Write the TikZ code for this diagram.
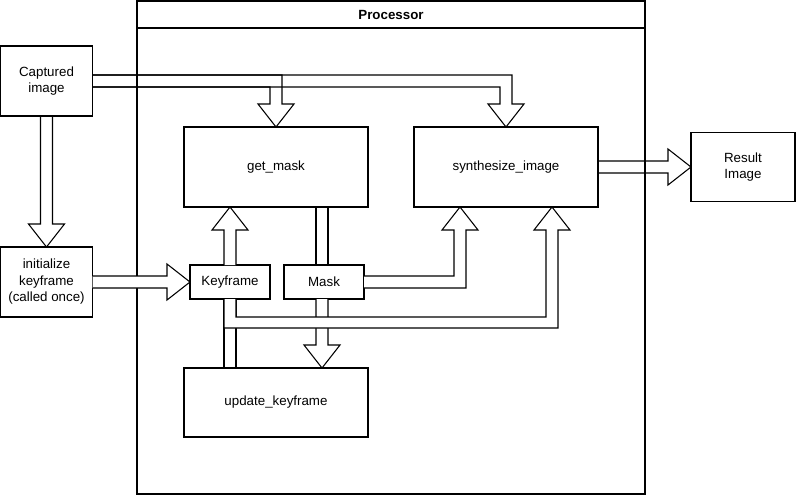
\documentclass[tikz,border=0pt]{standalone}
\usepackage{fontspec}
\setmainfont{Liberation Sans}
\usetikzlibrary{calc}

\begin{document}
\begin{tikzpicture}[x=0.75pt, y=-0.75pt, line width=0.8pt,
    every node/.style={font=\fontsize{10}{12.4}\selectfont, align=center},
    box/.style={draw, fill=white, inner sep=0pt, outer sep=0pt},
    flex/.style={draw, line join=miter},
    flexw/.style={flex, fill=white}]
    \useasboundingbox (0,0) rectangle (796,497);
    % Processor frame
    \node[draw, inner sep=0pt, outer sep=0pt, minimum width=381pt, minimum height=369.75pt] (proc) at (391,247.5) {};
    \draw ($(proc.north west)+(0,27)$) -- ($(proc.north east)+(0,27)$);
    \node[font=\fontsize{10}{12}\selectfont\bfseries] (title) at ($(proc.north)+(0,13.5)$) {Processor};

    % Boxes
    \node[box, minimum width=69pt, minimum height=52.5pt] (cap) at (46.5,81) {Captured\\image};
    \node[box, minimum width=69pt, minimum height=52.5pt] (init) at (46.5,282) {initialize\\keyframe\\(called once)};
    \node[box, minimum width=138pt, minimum height=60pt] (gm) at (276,167) {get\_mask};
    \node[box, minimum width=138pt, minimum height=60pt] (synth) at (506,167) {synthesize\_image};
    \node[box, minimum width=78pt, minimum height=51.75pt] (res) at (743,167) {Result\\Image};
    \node[box, minimum width=60pt, minimum height=25.5pt] (kf) at (230,282) {Keyframe};
    \node[box, minimum width=60pt, minimum height=25.5pt] (mask) at (324,282) {Mask};
    \node[box, minimum width=138pt, minimum height=51.75pt] (upd) at (276,402.5) {update\_keyframe};

    % Anchor points on the arrows
    \coordinate (mx) at ($(mask.south)+(-2,0)$);
    \coordinate (sl) at ($(synth.south west)!0.25!(synth.south east)$);
    \coordinate (sr) at ($(synth.south west)!0.75!(synth.south east)$);

    % Arrows from the captured image
    \draw[flex] ($(cap.east)+(0,-6)$) -| ($(gm.north)+(6,-23)$) -- ++(12,0) -- (gm.north) -- ++(-18,-23) -- ++(12,0) |- ($(cap.east)+(0,6)$);
    \draw[flex] ($(cap.east)+(0,-6)$) -| ($(synth.north)+(6,-23)$) -- ++(12,0) -- (synth.north) -- ++(-18,-23) -- ++(12,0) |- ($(cap.east)+(0,6)$);
    \draw[flex] ($(cap.south)+(-6,0)$) -- ($(init.north)+(-6,-23)$) -- ++(-12,0) -- (init.north) -- ++(18,-23) -- ++(-12,0) -- ($(cap.south)+(6,0)$);

    % Result arrow
    \draw[flex] ($(synth.east)+(0,-6)$) -- ($(res.west)+(-23,-6)$) -- ++(0,-12) -- (res.west) -- ++(-23,18) -- ++(0,-12) -- ($(synth.east)+(0,6)$);

    % Links without heads
    \draw[flexw] ($(mx |- gm.south)+(-6,0)$) rectangle ($(mx |- mask.north)+(6,0)$);
    \draw[flexw] ($(kf.south)+(-6,0)$) rectangle ($(kf.south |- upd.north)+(6,0)$);

    % Mask to update_keyframe
    \draw[flexw] ($(mx)+(-6,0)$) -- ($(mx |- upd.north)+(-6,-23)$) -- ++(-12,0) -- (mx |- upd.north) -- ++(18,-23) -- ++(-12,0) -- ($(mx)+(6,0)$);
    % Keyframe to get_mask
    \draw[flexw] ($(kf.north)+(-6,0)$) -- ($(kf.north |- gm.south)+(-6,23)$) -- ++(-12,0) -- (kf.north |- gm.south) -- ++(18,23) -- ++(-12,0) -- ($(kf.north)+(6,0)$);
    % Mask to synthesize_image
    \draw[flexw] ($(mask.east)+(0,6)$) -| ($(sl)+(6,23)$) -- ++(12,0) -- (sl) -- ++(-18,23) -- ++(12,0) |- ($(mask.east)+(0,-6)$);
    % initialize to Keyframe
    \draw[flexw] ($(init.east)+(0,-6)$) -- ($(kf.west)+(-23,-6)$) -- ++(0,-12) -- (kf.west) -- ++(-23,18) -- ++(0,-12) -- ($(init.east)+(0,6)$);
    % Keyframe to synthesize_image
    \draw[flexw] ($(kf.south)+(-6,0)$) |- ($(sr)+(6,121)$) -- ($(sr)+(6,23)$) -- ++(12,0) -- (sr) -- ++(-18,23) -- ++(12,0) |- ($(kf.south)+(6,18)$) -- ($(kf.south)+(6,0)$);
\end{tikzpicture}
\end{document}
